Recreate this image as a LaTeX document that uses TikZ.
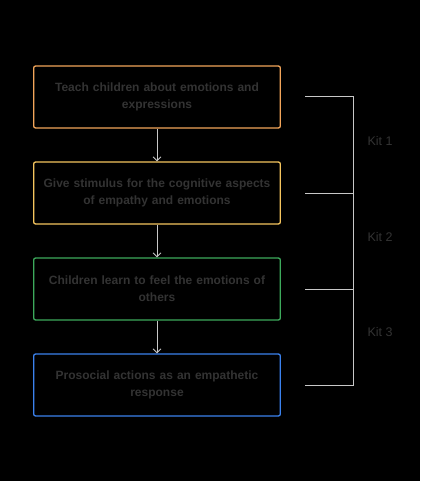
\documentclass[tikz,border=0pt]{standalone}
\usepackage{fontspec}
\setmainfont{Liberation Sans}
\usetikzlibrary{arrows.meta}
\definecolor{txtgray}{HTML}{333333}
\definecolor{linegray}{HTML}{C8C8C8}
\definecolor{kitorange}{HTML}{F2A55A}
\definecolor{kityellow}{HTML}{F5C55E}
\definecolor{kitgreen}{HTML}{3DAA5C}
\definecolor{kitblue}{HTML}{3B82EE}
\begin{document}
\begin{tikzpicture}[x=1pt, y=-1pt,
  stepbox/.style={draw, rounded corners=2pt, line width=1.3pt, minimum width=246pt, minimum height=62pt,
    text width=240pt, align=center, text=txtgray, font=\fontsize{12}{17}\selectfont\bfseries},
  flow/.style={draw=linegray, line width=0.8pt, -{Straight Barb[length=4pt,width=8pt]}},
  brace/.style={draw=linegray, line width=1pt},
  kitlabel/.style={text=txtgray, font=\fontsize{12.5}{15}\selectfont}]
\fill[black] (0,0) rectangle (420,481);
\useasboundingbox (0,0) rectangle (420,481);
% steps
\node[stepbox, draw=kitorange] (teach) at (157,97) {Teach children about emotions and\\expressions};
\node[stepbox, draw=kityellow] (stim) at (157,193) {Give stimulus for the cognitive aspects\\of empathy and emotions};
\node[stepbox, draw=kitgreen] (feel) at (157,289) {Children learn to feel the emotions of\\others};
\node[stepbox, draw=kitblue] (act) at (157,385) {Prosocial actions as an empathetic\\response};
\draw[flow] (teach) -- (stim);
\draw[flow] (stim) -- (feel);
\draw[flow] (feel) -- (act);
% kit bracket
\coordinate (a1) at (305,97);  \coordinate (b1) at (353,97);
\coordinate (a2) at (305,193); \coordinate (b2) at (353,193);
\coordinate (a3) at (305,289); \coordinate (b3) at (353,289);
\coordinate (a4) at (305,385); \coordinate (b4) at (353,385);
\draw[brace] (a1) -- (b1) -- (b4) -- (a4);
\draw[brace] (a2) -- (b2);
\draw[brace] (a3) -- (b3);
\node[kitlabel] (kit1) at (380,141) {Kit 1};
\node[kitlabel] (kit2) at (380,237) {Kit 2};
\node[kitlabel] (kit3) at (380,332) {Kit 3};
\end{tikzpicture}
\end{document}
